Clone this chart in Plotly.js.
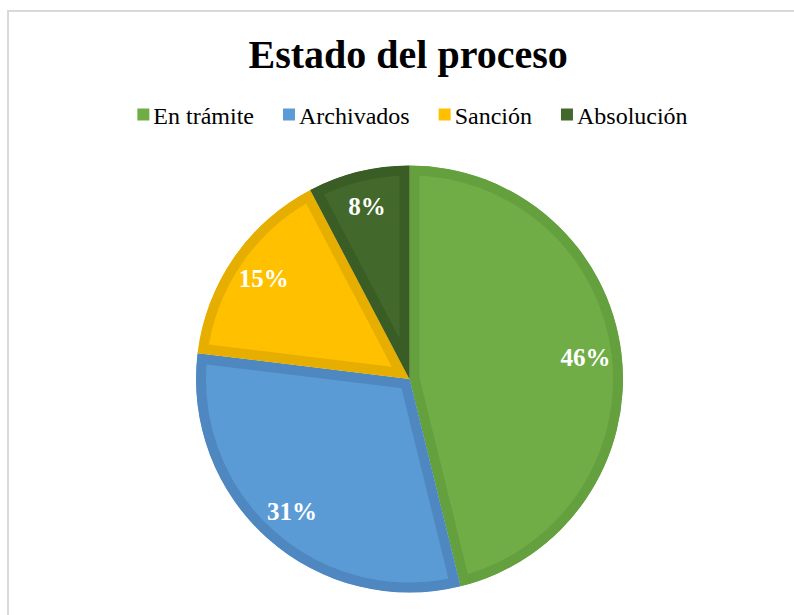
<!DOCTYPE html>
<html>
<head>
<meta charset="utf-8">
<script src="https://cdn.plot.ly/plotly-3.0.1.min.js"></script>
<style>
    html, body { margin: 0; padding: 0; background: #fff; overflow: hidden; }
    #chart { width: 794px; height: 615px; }
    #frame {
        position: absolute; left: 7px; top: 10px;
        width: 900px; height: 800px;
        border: 2px solid #d9d9d9;
        pointer-events: none;
    }
    /* plain squares in the legend, no outline, sitting close to the text */
    .legendpie { stroke-width: 0 !important; transform: translate(30px, 0px); }
</style>
</head>
<body>
<div id="chart"></div>
<div id="frame"></div>
<script>
// Estado del proceso (counts: 6/13, 4/13, 2/13, 1/13)
const categories = ['En trámite', 'Archivados', 'Sanción', 'Absolución'];
const counts = [6, 4, 2, 1];
const fillColors = ['#70ad47', '#5b9bd5', '#ffc000', '#43682b'];
const edgeColors = ['#65a03e', '#4f88c0', '#e6ae00', '#3a5c25'];

const serif = '"Liberation Serif", "Times New Roman", serif';
const pieDomain = { x: [196 / 794, 623 / 794], y: [1 - 592.5 / 615, 1 - 165.5 / 615] };

// full pie: fills and borders
const pie = {
    type: 'pie',
    labels: categories,
    values: counts,
    sort: false,
    direction: 'clockwise',
    rotation: 0,
    domain: pieDomain,
    marker: {
        colors: fillColors,
        line: { color: edgeColors, width: 20 }
    },
    textinfo: 'none',
    hoverinfo: 'none'
};

// transparent ring on top, only to push the labels out toward the rim
const labelsRing = {
    type: 'pie',
    labels: categories,
    values: counts,
    sort: false,
    direction: 'clockwise',
    rotation: 0,
    hole: 0.66,
    domain: pieDomain,
    showlegend: false,
    marker: {
        colors: categories.map(() => 'rgba(0,0,0,0)'),
        line: { width: 0 }
    },
    texttemplate: '%{percent:.0%}',
    textposition: 'inside',
    insidetextorientation: 'horizontal',
    textfont: { family: serif, size: 25, color: '#ffffff', weight: 'bold' },
    hoverinfo: 'none'
};

const layout = {
    width: 794,
    height: 615,
    margin: { l: 0, r: 0, t: 0, b: 0 },
    paper_bgcolor: '#ffffff',
    plot_bgcolor: '#ffffff',
    title: {
        text: '<b>Estado del proceso</b>',
        font: { family: serif, size: 40, color: '#000000' },
        x: 0.514, xanchor: 'center',
        y: 1 - 54 / 615, yanchor: 'middle',
        yref: 'container'
    },
    showlegend: true,
    legend: {
        orientation: 'h',
        x: 0.508, xanchor: 'center',
        y: 1 - 115 / 615, yanchor: 'middle',
        font: { family: serif, size: 24, color: '#000000' },
        itemclick: false
    }
};

const config = { staticPlot: true, displayModeBar: false };

Plotly.newPlot('chart', [pie, labelsRing], layout, config).then(gd => {
    // keep each slice's thick outline on its own side (inner border look)
    const NS = 'http://www.w3.org/2000/svg';
    const svg = gd.querySelector('svg.main-svg');
    let defs = svg.querySelector('defs');
    if (!defs) {
        defs = document.createElementNS(NS, 'defs');
        svg.insertBefore(defs, svg.firstChild);
    }
    const firstTrace = gd.querySelector('g.pielayer g.trace');
    firstTrace.querySelectorAll('g.slice path.surface').forEach((p, i) => {
        const clip = document.createElementNS(NS, 'clipPath');
        clip.setAttribute('id', 'slice-clip-' + i);
        const shape = document.createElementNS(NS, 'path');
        shape.setAttribute('d', p.getAttribute('d'));
        clip.appendChild(shape);
        defs.appendChild(clip);
        p.setAttribute('clip-path', 'url(#slice-clip-' + i + ')');
    });
});
</script>
</body>
</html>
